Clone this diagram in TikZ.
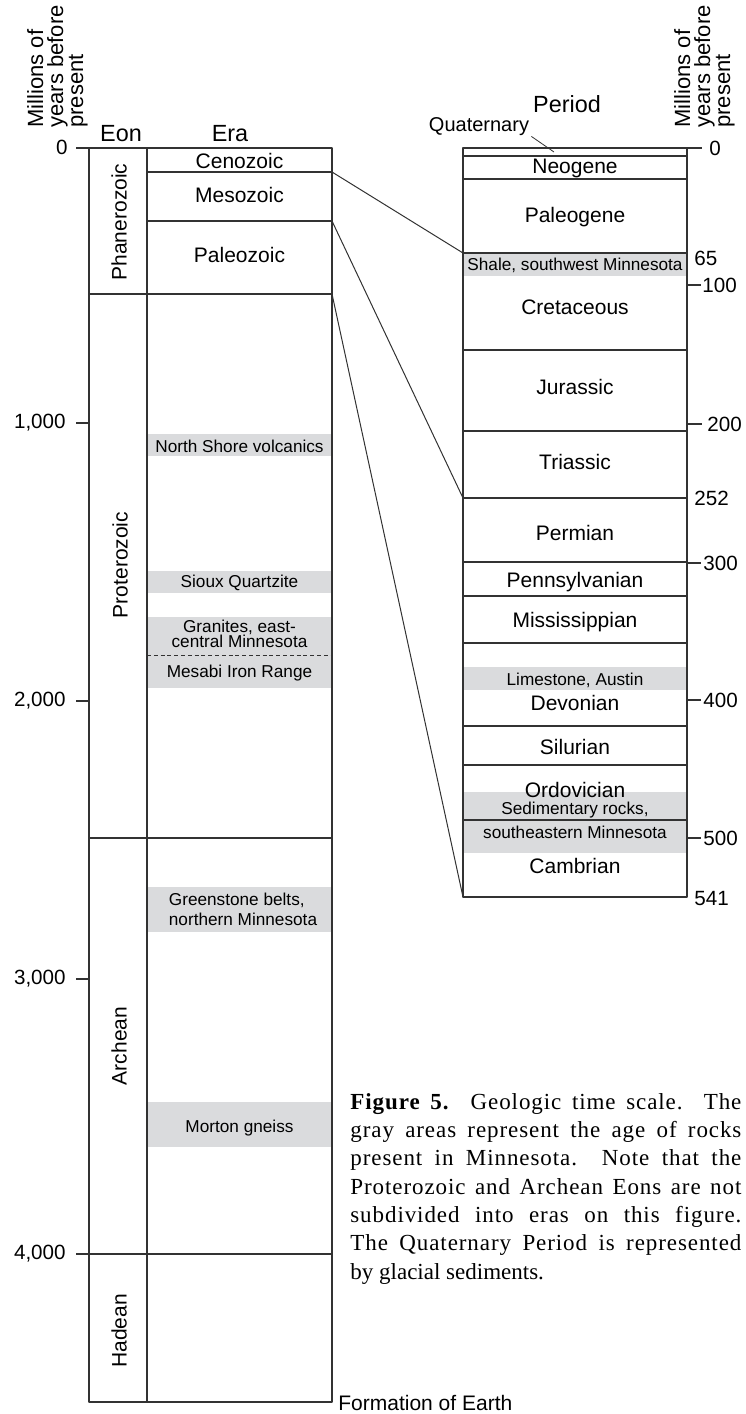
\documentclass[tikz,border=0pt]{standalone}
\usepackage{fontspec}
\setmainfont{Liberation Sans}
\newfontfamily\capfont{Liberation Serif}
\definecolor{rockgray}{RGB}{218,219,221}
\definecolor{linegray}{RGB}{50,50,50}
\begin{document}
\begin{tikzpicture}[x=0.5pt, y=-0.5pt, line join=round, line cap=butt,
	box/.style={draw=linegray, line width=0.6pt},
	head/.style={font=\fontsize{11.7}{13}\selectfont},
	unit/.style={font=\fontsize{10.5}{12}\selectfont},
	rock/.style={font=\fontsize{8.6}{10}\selectfont, align=center},
	age/.style={font=\fontsize{10.3}{12}\selectfont, inner sep=0pt},
	myears/.style={font=\fontsize{11}{10}\selectfont, align=left, rotate=90, anchor=south west, inner sep=0pt}]
	\useasboundingbox (0,0) rectangle (745,1414);
	% gray bands, left column
	\fill[rockgray] (147,434) rectangle (332,456);
	\fill[rockgray] (147,571) rectangle (332,593);
	\fill[rockgray] (147,617) rectangle (332,688);
	\fill[rockgray] (147,887) rectangle (332,932);
	\fill[rockgray] (147,1102) rectangle (332,1147);
	% gray bands, right column
	\fill[rockgray] (463,253) rectangle (687,276);
	\fill[rockgray] (463,667) rectangle (687,690);
	\fill[rockgray] (463,792) rectangle (687,853);
	% left column: eons and eras
	\draw[box] (89,148) rectangle (332,1402);
	\draw[box] (147,148) -- (147,1402);
	\draw[box] (147,172) -- (332,172);
	\draw[box] (147,221) -- (332,221);
	\draw[box] (89,294) -- (332,294);
	\draw[box] (89,838) -- (332,838);
	\draw[box] (89,1254) -- (332,1254);
	\draw[linegray, line width=0.5pt, dash pattern=on 2pt off 1.4pt] (147,655) -- (332,655);
	% left ticks
	\draw[box] (76,148) -- (89,148);
	\draw[box] (76,423) -- (89,423);
	\draw[box] (76,701) -- (89,701);
	\draw[box] (76,979) -- (89,979);
	\draw[box] (76,1254) -- (89,1254);
	\node[age, anchor=east] (t0) at (68,147) {0};
	\node[age, anchor=east] (t1000) at (66,423) {1,000};
	\node[age, anchor=east] (t2000) at (66,701) {2,000};
	\node[age, anchor=east] (t3000) at (66,979) {3,000};
	\node[age, anchor=east] (t4000) at (66,1254) {4,000};
	% right column: periods
	\draw[box] (463,148) rectangle (687,897);
	\draw[box] (463,156) -- (687,156);
	\draw[box] (463,179) -- (687,179);
	\draw[box] (463,253) -- (687,253);
	\draw[box] (463,350) -- (687,350);
	\draw[box] (463,431) -- (687,431);
	\draw[box] (463,498) -- (687,498);
	\draw[box] (463,562) -- (687,562);
	\draw[box] (463,596) -- (687,596);
	\draw[box] (463,643) -- (687,643);
	\draw[box] (463,726) -- (687,726);
	\draw[box] (463,765) -- (687,765);
	\draw[box] (463,820) -- (687,820);
	% right ticks
	\draw[box] (687,148) -- (702,148);
	\draw[box] (687,285) -- (701,285);
	\draw[box] (687,424) -- (702,424);
	\draw[box] (687,563) -- (701,563);
	\draw[box] (687,700) -- (701,700);
	\draw[box] (687,838) -- (701,838);
	\node[age, anchor=west] (p0) at (709,148) {0};
	\node[age, anchor=west] (p65) at (694,258) {65};
	\node[age, anchor=west] (p100) at (702,285) {100};
	\node[age, anchor=west] (p200) at (707,424) {200};
	\node[age, anchor=west] (p252) at (694,498) {252};
	\node[age, anchor=west] (p300) at (703,563) {300};
	\node[age, anchor=west] (p400) at (703,700) {400};
	\node[age, anchor=west] (p500) at (703,838) {500};
	\node[age, anchor=west] (p541) at (694,899) {541};
	% headings
	\node[myears] (myleft) at (88,128) {Millions of\\years before\\present};
	\node[myears] (myright) at (735,128) {Millions of\\years before\\present};
	\node[head] (eon) at (121,134) {Eon};
	\node[head] (era) at (230,134) {Era};
	\node[head] (period) at (567,104) {Period};
	\node[font=\fontsize{10}{12}\selectfont, inner sep=0pt] (quat) at (479,127) {Quaternary};
	\coordinate (qband) at (554,152);
	\draw[linegray, line width=0.4pt] (quat.south east) ++(2,0) -- (qband);
	% eons
	\node[unit, rotate=90] (phanero) at (119,222) {Phanerozoic};
	\node[unit, rotate=90] (protero) at (120,565) {Proterozoic};
	\node[unit, rotate=90] (archean) at (119,1046) {Archean};
	\node[unit, rotate=90] (hadean) at (119,1331) {Hadean};
	% eras
	\node[unit] (ceno) at (239.5,161) {Cenozoic};
	\node[unit] (meso) at (239.5,195) {Mesozoic};
	\node[unit] (paleo) at (239.5,255) {Paleozoic};
	% rocks, left column
	\node[rock] (nshore) at (239.5,446) {North Shore volcanics};
	\node[rock] (sioux) at (239.5,583) {Sioux Quartzite};
	\node[rock, font=\fontsize{8.6}{7.7}\selectfont] (granite) at (239.5,634) {Granites, east-\\central Minnesota};
	\node[rock] (mesabi) at (239.5,673) {Mesabi Iron Range};
	\node[rock, align=left] (green) at (243,909) {Greenstone belts,\\northern Minnesota};
	\node[rock] (morton) at (239.5,1128) {Morton gneiss};
	% periods
	\node[unit] (neo) at (575,168) {Neogene};
	\node[unit] (paleog) at (575,217) {Paleogene};
	\node[unit] (creta) at (575,307) {Cretaceous};
	\node[unit] (jura) at (575,387) {Jurassic};
	\node[unit] (trias) at (575,462) {Triassic};
	\node[unit] (perm) at (575,533) {Permian};
	\node[unit] (penn) at (575,582) {Pennsylvanian};
	\node[unit] (missi) at (575,622) {Mississippian};
	\node[unit] (devon) at (575,703) {Devonian};
	\node[unit] (silur) at (575,747) {Silurian};
	\node[unit] (ordov) at (575,790) {Ordovician};
	\node[unit] (cambr) at (575,866) {Cambrian};
	% rocks, right column
	\node[rock] (shale) at (575,265) {Shale, southwest Minnesota};
	\node[rock] (lime) at (575,680) {Limestone, Austin};
	\node[rock, font=\fontsize{8.6}{12}\selectfont] (sedim) at (575,820) {Sedimentary rocks,\\southeastern Minnesota};
	% links between the columns
	\coordinate (bceno) at (332,172);
	\coordinate (bmeso) at (332,221);
	\coordinate (bphan) at (332,294);
	\coordinate (k65) at (463,253);
	\coordinate (k252) at (463,498);
	\coordinate (k541) at (463,897);
	\draw[linegray, line width=0.5pt] (bceno) -- (k65);
	\draw[linegray, line width=0.5pt] (bmeso) -- (k252);
	\draw[linegray, line width=0.5pt] (bphan) -- (k541);
	\node[unit, anchor=base west, inner sep=0pt] (earth) at (338,1410) {Formation of Earth};
	% caption
	\node[anchor=north west, inner sep=0pt, text width=195.5pt, align=justify,
		font=\capfont\fontsize{11.5}{14.15}\selectfont] (caption) at (350,1093)
		{{\addfontfeature{LetterSpace=4}\textbf{Figure 5.}\ \ Geologic time scale.\ \ The\linebreak
		gray areas represent the age of rocks\linebreak
		present in Minnesota.\ \ Note that the\linebreak
		Proterozoic and Archean Eons are not\linebreak
		subdivided into eras on this figure.\linebreak
		The Quaternary Period is represented}\linebreak
		by glacial sediments.};
\end{tikzpicture}
\end{document}
